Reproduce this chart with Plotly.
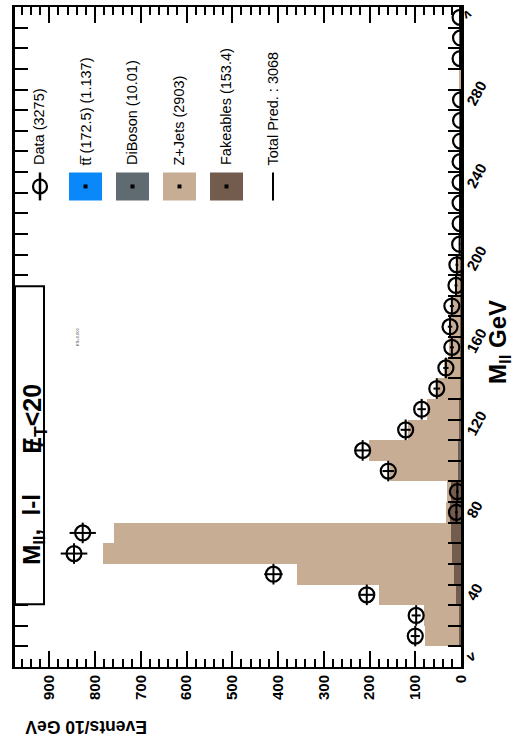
import math
import plotly.graph_objects as go

# Dilepton invariant mass, 10 GeV bins from 10 to 320 GeV
bin_lo = list(range(10, 320, 10))
bin_centers = [b + 5 for b in bin_lo]

data_counts = [100, 98, 206, 410, 846, 827, 10, 8, 159, 215, 121, 86, 53, 33, 20, 24,
               20, 11, 9, 3, 2, 2, 2, 2, 1, 1, 1, 0, 2, 1, 2]
zjets = [76, 76, 168, 345, 762, 737, 8, 8, 148, 194, 110, 70, 50, 35, 25, 22,
         18, 12, 10, 4, 3, 3, 3, 2, 2, 2, 2, 2, 2, 2, 2]
fakeables = [3.3, 4, 10, 14, 19, 20, 24, 22, 5, 5, 4, 3, 2.5, 2, 2, 1.5,
             1.5, 1.2, 1.2, 1, 1, 0.8, 0.8, 0.7, 0.7, 0.6, 0.6, 0.5, 0.5, 0.5, 0.5]
diboson = [0.05, 0.08, 0.15, 0.3, 0.6, 0.8, 0.7, 0.8, 1.3, 1.4, 0.9, 0.6, 0.4, 0.3, 0.25, 0.2,
           0.18, 0.15, 0.12, 0.1, 0.1, 0.08, 0.08, 0.07, 0.07, 0.06, 0.06, 0.05, 0.05, 0.04, 0.04]
ttbar = [0.01, 0.02, 0.03, 0.04, 0.05, 0.06, 0.06, 0.06, 0.06, 0.06, 0.06, 0.05, 0.05, 0.05, 0.05, 0.04,
         0.04, 0.04, 0.04, 0.03, 0.03, 0.03, 0.03, 0.02, 0.02, 0.02, 0.02, 0.02, 0.01, 0.01, 0.01]

legend_labels = ["Data (3275)", "tt\u0305 (172.5) (1.137)", "DiBoson (10.01)",
                 "Z+Jets (2903)", "Fakeables (153.4)", "Total Pred. : 3068"]
value_ticks = list(range(0, 1000, 100))
mass_ticks = [40, 80, 120, 160, 200, 240, 280]

C_TT = "#0a88fa"
C_DB = "#5f6b70"
C_ZJ = "#c8ad95"
C_FK = "#735b4e"

FONT = "Liberation Sans, Arial, Helvetica, sans-serif"

fig = go.Figure()

# stacked prediction, drawn sideways (counts on the horizontal axis)
for vals, col, name in [(ttbar, C_TT, "ttbar"), (diboson, C_DB, "DiBoson"),
                        (fakeables, C_FK, "Fakeables"), (zjets, C_ZJ, "Z+Jets")]:
    fig.add_trace(go.Bar(x=vals, y=bin_centers, orientation="h", width=10,
                         marker=dict(color=col, line=dict(width=0)),
                         name=name, showlegend=False))

shown = [d if d > 0 else None for d in data_counts]
errs = [math.sqrt(d) for d in data_counts]
fig.add_trace(go.Scatter(
    x=shown, y=bin_centers, mode="markers", showlegend=False,
    marker=dict(symbol="circle-open", size=15, color="black", line=dict(width=2.2, color="black")),
    error_x=dict(type="data", array=errs, thickness=2, width=0, color="black"),
    error_y=dict(type="constant", value=5, thickness=2, width=0, color="black"),
))

fig.update_layout(
    width=522, height=747,
    margin=dict(l=15, r=61, t=5, b=80),
    paper_bgcolor="white", plot_bgcolor="white",
    barmode="stack", bargap=0,
    font=dict(family=FONT, color="black"),
    xaxis=dict(
        range=[975, 0], tickvals=value_ticks, ticks="inside", ticklen=16, tickwidth=2,
        tickcolor="black", showline=True, linewidth=2, linecolor="black", mirror="allticks",
        showgrid=False, zeroline=False, tickangle=-90,
        tickfont=dict(family=FONT, size=15, weight="bold", color="black"),
        minor=dict(dtick=20, tick0=0, ticks="inside", ticklen=8, tickwidth=1.5, tickcolor="black"),
    ),
    yaxis=dict(
        range=[0, 320], side="right", tickvals=mass_ticks, ticks="inside", ticklen=13, tickwidth=2,
        tickcolor="black", showline=True, linewidth=2.5, linecolor="black", mirror="allticks",
        showgrid=False, zeroline=False, tickangle=-62, ticklabelshift=16, ticklabelstandoff=2,
        tickfont=dict(family=FONT, size=15, weight="bold", color="black"),
        minor=dict(dtick=10, tick0=0, ticks="inside", ticklen=13, tickwidth=1.5, tickcolor="black"),
    ),
)

# pixel -> paper helpers for the decorations around the frame
X0, X1, Y0, Y1 = 15, 461, 5, 667


def fx(p):
    return (p - X0) / (X1 - X0)


def fy(p):
    return (Y1 - p) / (Y1 - Y0)


def note(px, py, text, angle, size, bold=False, color="black", yanchor="middle"):
    font = dict(family=FONT, size=size, color=color)
    if bold:
        font["weight"] = "bold"
    return dict(x=fx(px), y=fy(py), xref="paper", yref="paper", xanchor="center", yanchor=yanchor,
                text=text, textangle=angle, showarrow=False, font=font)


shapes = []
annos = []

# axis titles
annos.append(note(500, 341, "M<sub>ll</sub> GeV", -90, 24, bold=True))
annos.append(note(86, 727, "Events/10 GeV", 180, 17.5, bold=True))

# selection label box
shapes.append(dict(type="rect", xref="paper", yref="paper", x0=fx(15), x1=fx(44), y0=fy(604), y1=fy(285),
                   line=dict(color="black", width=2), fillcolor="white", layer="above"))
annos.append(note(34, 567, "M<sub>ll</sub>,  l-l", -90, 24, bold=True, yanchor="bottom"))
annos.append(note(34, 455, "E<sub>T</sub><20", -90, 25, bold=True, yanchor="bottom"))
annos.append(note(35, 443, "/", -90, 24, bold=True))
annos.append(note(77, 336, "KS=0.000", -90, 4, color="#444"))

# legend column
row_y0, row_y1 = 171, 199
legend_x = [39, 86, 132, 179, 226, 273]
for lx, lab in zip(legend_x, legend_labels):
    annos.append(note(lx, 166, lab, -90, 14.5, yanchor="bottom"))

# data entry: open circle with bar
shapes.append(dict(type="circle", xref="paper", yref="paper", x0=fx(33), x1=fx(47), y0=fy(192), y1=fy(178),
                   line=dict(color="black", width=2.2)))
shapes.append(dict(type="line", xref="paper", yref="paper", x0=fx(40), x1=fx(40), y0=fy(row_y1), y1=fy(row_y0),
                   line=dict(color="black", width=2.5)))
# filled entries
for (a, b), col in zip([(69, 102), (116, 149), (163, 196), (210, 243)], [C_TT, C_DB, C_ZJ, C_FK]):
    shapes.append(dict(type="rect", xref="paper", yref="paper", x0=fx(a), x1=fx(b),
                       y0=fy(row_y1), y1=fy(row_y0), line=dict(width=0), fillcolor=col))
    c = (a + b) / 2
    shapes.append(dict(type="rect", xref="paper", yref="paper", x0=fx(c - 2), x1=fx(c + 2),
                       y0=fy(187), y1=fy(183), line=dict(width=0), fillcolor="black"))
# total prediction line
shapes.append(dict(type="line", xref="paper", yref="paper", x0=fx(273), x1=fx(273), y0=fy(row_y1), y1=fy(row_y0),
                   line=dict(color="black", width=2)))

# stray axis glyphs at the ends of the mass axis
annos.append(note(471, 656, "v", -30, 14, bold=True))
annos.append(note(467, 13, "v", 150, 13, bold=True))

fig.update_layout(shapes=shapes, annotations=annos)

fig.write_html("out.html")
